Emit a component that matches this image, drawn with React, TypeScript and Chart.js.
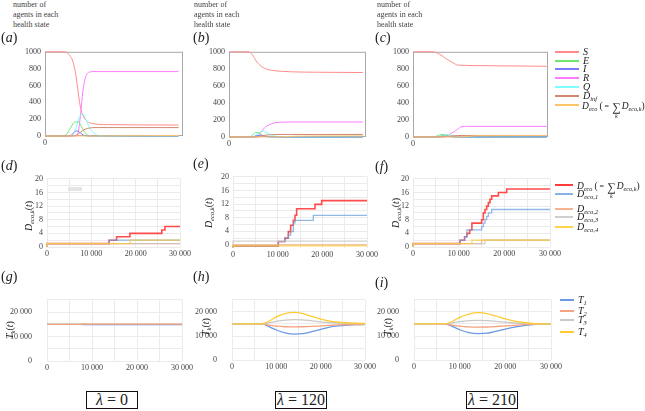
import React, { useEffect, useRef } from "react";
import { Chart, registerables } from "chart.js";
Chart.register(...registerables);

const FONT = '"Liberation Serif", "Times New Roman", serif';
Chart.defaults.font.family = FONT;

// ---------- Row 1: number of agents in each health state ----------
const T_ROW1 = [0, 4000, 5000, 5500, 6000, 6500, 7000, 7500, 8000, 8500, 9000, 9500, 10000, 11000, 12000, 14000, 20000, 30000];

const A_S = [1000, 1000, 990, 960, 920, 840, 700, 500, 330, 250, 200, 175, 157, 145, 138, 135, 132, 130];
const A_E = [0, 0, 30, 75, 120, 160, 168, 165, 130, 80, 40, 10, 0, 0, 0, 0, 0, 0];
const A_I = [0, 0, 0, 0, 15, 40, 60, 55, 35, 15, 5, 0, 0, 0, 0, 0, 0, 0];
const A_R = [0, 0, 0, 0, 0, 0, 0, 60, 260, 530, 680, 740, 760, 765, 765, 765, 765, 765];
const A_Q = [0, 0, 0, 0, 10, 40, 100, 190, 250, 262, 220, 160, 100, 35, 5, 0, 0, 0];
const A_DINF = [0, 0, 0, 0, 0, 3, 10, 25, 45, 65, 80, 90, 95, 100, 100, 100, 100, 100];
const A_DECO = [0, 0, 0, 0, 0, 0, 0, 0, 0, 0, 0, 0, 0, 0, 0, 1, 3, 6];

const B_S = [1000, 1000, 985, 945, 900, 865, 840, 820, 805, 795, 788, 783, 779, 774, 770, 765, 760, 757];
const B_E = [0, 0, 10, 35, 55, 50, 35, 20, 10, 5, 0, 0, 0, 0, 0, 0, 0, 0];
const B_I = [0, 0, 0, 5, 12, 18, 20, 15, 10, 5, 2, 0, 0, 0, 0, 0, 0, 0];
const B_R = [0, 0, 0, 0, 0, 2, 40, 80, 110, 130, 145, 155, 163, 172, 175, 176, 176, 176];
const B_Q = [0, 0, 0, 5, 20, 40, 60, 70, 65, 50, 35, 20, 12, 5, 0, 0, 0, 0];
const B_DINF = [0, 0, 0, 0, 0, 3, 8, 14, 19, 23, 26, 28, 29, 30, 30, 30, 30, 30];
const B_DECO = [0, 0, 0, 0, 0, 0, 0, 0, 0, 0, 0, 0, 0, 2, 3, 8, 12, 13];

const C_S = [1000, 1000, 995, 985, 970, 955, 935, 915, 900, 885, 870, 855, 845, 842, 840, 838, 835, 830];
const C_E = [0, 0, 5, 15, 25, 28, 25, 18, 10, 5, 2, 0, 0, 0, 0, 0, 0, 0];
const C_I = [0, 0, 0, 3, 6, 9, 10, 8, 5, 3, 1, 0, 0, 0, 0, 0, 0, 0];
const C_R = [0, 0, 0, 0, 0, 0, 0, 10, 25, 40, 55, 72, 90, 122, 125, 125, 125, 125];
const C_Q = [0, 0, 0, 2, 8, 18, 26, 30, 28, 22, 15, 8, 4, 1, 0, 0, 0, 0];
const C_DINF = [0, 0, 0, 0, 0, 1, 3, 6, 9, 12, 14, 16, 17, 18, 18, 18, 18, 18];
const C_DECO = [0, 0, 0, 0, 0, 0, 0, 0, 0, 0, 0, 0, 1, 3, 5, 14, 16, 17];

// ---------- Row 2: D_eco,k(t) step functions (change times / values) ----------
const D_RED_T = [0, 14000, 15700, 18700, 25900, 26600, 27400, 30000];
const D_RED_V = [0, 1, 2, 3, 4, 5, 6, 6];
const D_BLUE_T = [0, 14000, 26600, 30000];
const D_BLUE_V = [0, 1, 2, 2];
const D_ORANGE_T = [0, 27400, 30000];
const D_ORANGE_V = [0, 1, 1];
const D_GRAY_T = [0, 15700, 30000];
const D_GRAY_V = [0, 1, 1];
const D_YELLOW_T = [0, 18700, 25900, 30000];
const D_YELLOW_V = [0, 1, 2, 2];

const E_RED_T = [0, 10150, 11640, 12390, 12910, 13510, 13880, 14250, 18360, 19850, 27310, 30000];
const E_RED_V = [-0.9, -0.3, 1, 2, 3.9, 5.8, 7.2, 8.7, 10.6, 11.9, 13, 13];
const E_BLUE_T = [0, 10150, 11640, 12390, 12910, 13510, 13880, 17980, 19480, 30000];
const E_BLUE_V = [-0.9, -0.3, 1, 2, 2.9, 3.9, 6.5, 7.2, 8.7, 8.7];
const E_ORANGE_T = [0, 12760, 30000];
const E_ORANGE_V = [-0.9, 0, 0];
const E_GRAY_T = [0, 27310, 30000];
const E_GRAY_V = [-0.9, 1.1, 1.1];
const E_YELLOW_T = [0, 18360, 30000];
const E_YELLOW_V = [-0.9, -0.3, -0.3];

const F_RED_T = [0, 10300, 11300, 11800, 12400, 12900, 15030, 15400, 15770, 16130, 16500, 16860, 17230, 18690, 20510, 25250, 30000];
const F_RED_V = [0, 1, 2, 3, 4, 5, 7, 8, 10, 11, 12, 13, 14, 15, 16, 17, 17];
const F_BLUE_T = [0, 10300, 11300, 11800, 15030, 15400, 15770, 16130, 16500, 17230, 25250, 30000];
const F_BLUE_V = [0, 1, 2, 3, 5, 6, 7, 8, 9, 10, 11, 11];
const F_ORANGE_T = [0, 15030, 16860, 30000];
const F_ORANGE_V = [0, 1, 2, 2];
const F_GRAY_T = [0, 15770, 18690, 30000];
const F_GRAY_V = [0, 1, 2, 2];
const F_YELLOW_T = [0, 12900, 20510, 30000];
const F_YELLOW_V = [0, 1, 2, 2];

// ---------- Row 3: T_k(t) ----------
const T_ROW3 = [0, 2000, 4000, 6000, 7000, 8000, 10000, 12000, 14000, 16000, 18000, 20000, 22000, 24000, 26000, 28000, 30000];

const G_T1 = [15000, 15000, 15000, 15000, 15000, 14950, 14900, 14880, 14870, 14870, 14870, 14880, 14880, 14880, 14890, 14890, 14900];
const G_T2 = [15000, 15000, 15000, 15000, 15000, 15050, 15100, 15120, 15130, 15130, 15120, 15120, 15110, 15110, 15100, 15100, 15100];
const G_T3 = [15000, 15000, 15000, 15000, 15000, 15000, 14980, 14970, 14970, 14970, 14980, 14980, 14990, 14990, 15000, 15000, 15000];
const G_T4 = [15000, 15000, 15000, 15000, 15000, 15010, 15020, 15030, 15030, 15030, 15030, 15020, 15020, 15010, 15010, 15000, 15000];

const H_T1 = [15000, 15000, 15000, 15000, 14900, 14200, 12500, 11300, 10800, 11000, 11800, 12800, 13700, 14200, 14500, 14700, 14800];
const H_T2 = [15000, 15000, 15000, 15000, 14950, 14600, 14100, 13850, 13800, 13850, 14000, 14200, 14400, 14600, 14700, 14750, 14800];
const H_T3 = [15000, 15000, 15000, 15000, 15050, 15400, 16100, 16600, 16800, 16700, 16300, 15900, 15600, 15400, 15300, 15200, 15100];
const H_T4 = [15000, 15000, 15000, 15000, 15100, 15800, 17900, 19300, 19800, 19300, 18100, 17000, 16200, 15700, 15400, 15300, 15200];

const I_T1 = [15000, 15000, 15000, 15000, 14900, 14300, 12600, 11400, 11000, 11200, 12000, 12900, 13700, 14300, 14700, 14900, 15000];
const I_T2 = [15000, 15000, 15000, 15000, 14950, 14600, 14100, 13800, 13700, 13750, 13950, 14200, 14450, 14700, 14850, 14950, 15000];
const I_T3 = [15000, 15000, 15000, 15000, 15050, 15350, 15950, 16350, 16500, 16400, 16100, 15700, 15400, 15200, 15100, 15000, 15000];
const I_T4 = [15000, 15000, 15000, 15000, 15100, 15700, 17700, 19100, 19700, 19300, 18200, 17100, 16200, 15600, 15200, 15050, 15000];

// ---------- styles ----------
const C1 = { S: "#ff8a8a", E: "#6de86d", I: "#7b7bff", R: "#ff7bff", Q: "#7bffff", DINF: "#d0896e", DECO: "#ffc36e" };
const C2 = {
  red: "rgba(255,45,45,0.85)",
  blue: "rgba(110,160,222,0.75)",
  orange: "rgba(244,165,120,0.75)",
  gray: "rgba(195,195,195,0.75)",
  yellow: "rgba(255,200,50,0.75)",
};
const C2L = { red: "#ff3b3b", blue: "#86b4e4", orange: "#f6b48e", gray: "#cfcfcf", yellow: "#ffd34d" };
const C3 = { t1: "#6a98e4", t2: "#f4a27f", t3: "#c9c9c9", t4: "#ffcb33" };

const xy = (ts: number[], vs: number[]) => ts.map((t, i) => ({ x: t, y: vs[i] }));
const fmtK = (v: number) => (v >= 10000 ? `${Math.floor(v / 1000)} ${String(v % 1000).padStart(3, "0")}` : String(v));

type Box = { l: number; t: number; r: number; b: number };
interface PanelCfg {
  box: Box;
  xMax: number;
  xStep: number;
  xEvery: number;
  yMin: number;
  yMax: number;
  yStep: number;
  yEvery: number;
  grid: boolean;
  frame: boolean;
  yPad: number;
  datasets: any[];
}

const YW = 50, PT = 8, PR = 22, XH = 14;

const framePlugin = {
  id: "frame",
  beforeDatasetsDraw(chart: any, _a: any, opts: any) {
    if (!opts || !opts.on) return;
    const { ctx, chartArea: a } = chart;
    ctx.save();
    ctx.strokeStyle = "#a8a8a8";
    ctx.lineWidth = 1;
    ctx.strokeRect(a.left + 0.5, a.top + 0.5, a.right - a.left - 1, a.bottom - a.top - 1);
    ctx.restore();
  },
};

function Panel({ cfg }: { cfg: PanelCfg }) {
  const ref = useRef<HTMLCanvasElement>(null);
  const { box } = cfg;
  const w = box.r - box.l + YW + PR;
  const h = box.b - box.t + PT + XH;
  useEffect(() => {
    const every = (e: number) => (val: any) => {
      const v = Number(val);
      const r = Math.abs(v % e);
      return r < 1e-6 || Math.abs(r - e) < 1e-6 ? fmtK(v) : "";
    };
    const tickFont = { family: FONT, size: 8 };
    const chart = new Chart(ref.current!, {
      type: "line",
      data: { datasets: cfg.datasets },
      options: {
        responsive: false,
        maintainAspectRatio: false,
        devicePixelRatio: 1,
        animation: false,
        events: [],
        layout: { padding: { left: 0, top: PT, right: PR, bottom: 0 } },
        plugins: { legend: { display: false }, tooltip: { enabled: false }, frame: { on: cfg.frame } } as any,
        elements: { point: { radius: 0 } },
        scales: {
          x: {
            type: "linear",
            min: 0,
            max: cfg.xMax,
            afterFit: (s: any) => {
              s.height = XH;
            },
            ticks: {
              stepSize: cfg.xStep,
              includeBounds: false,
              autoSkip: false,
              maxRotation: 0,
              minRotation: 0,
              padding: 2,
              color: "#444",
              font: tickFont,
              callback: every(cfg.xEvery),
            },
            grid: { display: cfg.grid, color: "#ebebeb", drawTicks: false },
            border: { display: false },
          },
          y: {
            type: "linear",
            min: cfg.yMin,
            max: cfg.yMax,
            afterFit: (s: any) => {
              s.width = YW;
            },
            ticks: {
              stepSize: cfg.yStep,
              includeBounds: false,
              autoSkip: false,
              padding: cfg.yPad,
              color: "#444",
              font: tickFont,
              callback: every(cfg.yEvery),
            },
            grid: { display: cfg.grid, color: "#ebebeb", drawTicks: false },
            border: { display: false },
          },
        },
      } as any,
      plugins: [framePlugin as any],
    });
    return () => chart.destroy();
  }, []);
  return (
    <canvas
      ref={ref}
      width={w}
      height={h}
      style={{ position: "absolute", left: box.l - YW, top: box.t - PT, width: w, height: h }}
    />
  );
}

const line1 = (ts: number[], vs: number[], color: string) => ({
  data: xy(ts, vs),
  borderColor: color,
  borderWidth: 1,
  pointRadius: 0,
  cubicInterpolationMode: "monotone",
  clip: 2,
  fill: false,
});
const step2 = (ts: number[], vs: number[], color: string, order: number, w = 1.3) => ({
  data: xy(ts, vs),
  borderColor: color,
  borderWidth: w,
  pointRadius: 0,
  stepped: "after",
  clip: false,
  fill: false,
  order,
});
const line3 = (ts: number[], vs: number[], color: string) => ({
  data: xy(ts, vs),
  borderColor: color,
  borderWidth: 1.3,
  pointRadius: 0,
  cubicInterpolationMode: "monotone",
  clip: false,
  fill: false,
});

const row1 = (S: number[], E: number[], I: number[], R: number[], Q: number[], Di: number[], De: number[]) => [
  line1(T_ROW1, De, C1.DECO),
  line1(T_ROW1, Di, C1.DINF),
  line1(T_ROW1, I, C1.I),
  line1(T_ROW1, E, C1.E),
  line1(T_ROW1, Q, C1.Q),
  line1(T_ROW1, R, C1.R),
  line1(T_ROW1, S, C1.S),
];

const row2 = (rT: number[], rV: number[], bT: number[], bV: number[], oT: number[], oV: number[], gT: number[], gV: number[], yT: number[], yV: number[]) => [
  step2(rT, rV, C2.red, 5, 1.6),
  step2(bT, bV, C2.blue, 4),
  step2(oT, oV, C2.orange, 3),
  step2(gT, gV, C2.gray, 2),
  step2(yT, yV, C2.yellow, 1),
];

const r1 = { xStep: 10000, xEvery: 10000, yMin: 0, yMax: 1000, yStep: 200, yEvery: 200, grid: false, frame: true, yPad: 4 };
const r2 = { xMax: 30000, xStep: 5000, xEvery: 10000, yMax: 20, yStep: 2, yEvery: 4, grid: true, frame: false, yPad: 4 };
const r3 = { xMax: 30000, xStep: 5000, xEvery: 10000, yMin: 0, yMax: 25000, yStep: 5000, yEvery: 10000, grid: true, frame: false, yPad: 15 };

const PANELS: PanelCfg[] = [
  { ...r1, box: { l: 45, t: 51, r: 183, b: 136 }, xMax: 31000, datasets: row1(A_S, A_E, A_I, A_R, A_Q, A_DINF, A_DECO) },
  { ...r1, box: { l: 229, t: 51, r: 366, b: 137 }, xMax: 30700, datasets: row1(B_S, B_E, B_I, B_R, B_Q, B_DINF, B_DECO) },
  { ...r1, box: { l: 413, t: 51, r: 548, b: 137 }, xMax: 30300, datasets: row1(C_S, C_E, C_I, C_R, C_Q, C_DINF, C_DECO) },
  {
    ...r2,
    box: { l: 47, t: 178, r: 180, b: 247 },
    yMin: 0,
    datasets: row2(D_RED_T, D_RED_V, D_BLUE_T, D_BLUE_V, D_ORANGE_T, D_ORANGE_V, D_GRAY_T, D_GRAY_V, D_YELLOW_T, D_YELLOW_V),
  },
  {
    ...r2,
    box: { l: 233, t: 176, r: 367, b: 248 },
    yMin: -0.9,
    datasets: row2(E_RED_T, E_RED_V, E_BLUE_T, E_BLUE_V, E_ORANGE_T, E_ORANGE_V, E_GRAY_T, E_GRAY_V, E_YELLOW_T, E_YELLOW_V),
  },
  {
    ...r2,
    box: { l: 413, t: 178, r: 550, b: 247 },
    yMin: 0,
    datasets: row2(F_RED_T, F_RED_V, F_BLUE_T, F_BLUE_V, F_ORANGE_T, F_ORANGE_V, F_GRAY_T, F_GRAY_V, F_YELLOW_T, F_YELLOW_V),
  },
  {
    ...r3,
    box: { l: 47, t: 288, r: 182, b: 367 },
    datasets: [line3(T_ROW3, G_T2, C3.t2), line3(T_ROW3, G_T1, C3.t1), line3(T_ROW3, G_T3, C3.t3), line3(T_ROW3, G_T4, C3.t4)],
  },
  {
    ...r3,
    box: { l: 232, t: 288, r: 365, b: 366 },
    datasets: [line3(T_ROW3, H_T4, C3.t4), line3(T_ROW3, H_T3, C3.t3), line3(T_ROW3, H_T2, C3.t2), line3(T_ROW3, H_T1, C3.t1)],
  },
  {
    ...r3,
    box: { l: 414, t: 288, r: 551, b: 366 },
    datasets: [line3(T_ROW3, I_T4, C3.t4), line3(T_ROW3, I_T3, C3.t3), line3(T_ROW3, I_T2, C3.t2), line3(T_ROW3, I_T1, C3.t1)],
  },
];

// ---------- text helpers ----------
const Sub = ({ children }: { children: React.ReactNode }) => (
  <span style={{ fontSize: "0.65em", position: "relative", top: "0.35em", fontStyle: "italic" }}>{children}</span>
);
const Sigma = () => (
  <span style={{ display: "inline-flex", flexDirection: "column", alignItems: "center", verticalAlign: "middle", lineHeight: 1, margin: "0 1px", position: "relative", top: 3 }}>
    <span style={{ fontSize: 12 }}>∑</span>
    <span style={{ fontSize: 6, fontStyle: "italic" }}>k</span>
  </span>
);
const DecoSum = () => (
  <span style={{ fontSize: 9.5 }}>
    <i>D</i>
    <Sub>eco</Sub>
    <span style={{ marginLeft: 2 }}>(</span>
    <span style={{ fontSize: 8 }}> = </span>
    <Sigma />
    <i>D</i>
    <Sub>eco,k</Sub>
    <span>)</span>
  </span>
);

function Leg({ x, y, len, color, lw, tx, children }: any) {
  return (
    <>
      <div style={{ position: "absolute", left: x, top: y - lw / 2, width: len, height: lw, background: color }} />
      <div style={{ position: "absolute", left: tx, top: y - 7, height: 14, lineHeight: "14px", fontSize: 10, whiteSpace: "nowrap" }}>{children}</div>
    </>
  );
}

function Letter({ x, y, l }: { x: number; y: number; l: string }) {
  return (
    <div style={{ position: "absolute", left: x, top: y - 8, lineHeight: "16px", fontSize: 14 }}>
      (<i>{l}</i>)
    </div>
  );
}

function YTitle({ cx, cy, children }: any) {
  return (
    <div
      style={{
        position: "absolute",
        left: cx,
        top: cy,
        transform: "translate(-50%, -50%) rotate(-90deg)",
        whiteSpace: "nowrap",
        fontSize: 10,
        lineHeight: "12px",
      }}
    >
      {children}
    </div>
  );
}

function Lambda({ l, v }: { l: number; v: string }) {
  return (
    <div
      style={{
        position: "absolute",
        left: l,
        top: 391,
        width: 52,
        height: 18,
        boxSizing: "border-box",
        border: "1.5px solid #111",
        display: "flex",
        alignItems: "center",
        justifyContent: "center",
        fontSize: 16,
        whiteSpace: "nowrap",
      }}
    >
      <i>λ</i>&nbsp;=&nbsp;{v}
    </div>
  );
}

const HeadText = ({ x }: { x: number }) => (
  <div style={{ position: "absolute", left: x, top: 0, fontSize: 8, lineHeight: "10px", color: "#444" }}>
    number of
    <br />
    agents in each
    <br />
    health state
  </div>
);

export default function App() {
  return (
    <div style={{ position: "absolute", left: 0, top: 0, width: 645, height: 411, background: "#fff", fontFamily: FONT, color: "#222", overflow: "hidden" }}>
      {PANELS.map((p, i) => (
        <Panel key={i} cfg={p} />
      ))}
      <HeadText x={13} />
      <HeadText x={194} />
      <HeadText x={377} />
      <Letter x={1} y={38} l="a" />
      <Letter x={193} y={38} l="b" />
      <Letter x={375} y={38} l="c" />
      <Letter x={1} y={166} l="d" />
      <Letter x={193} y={164} l="e" />
      <Letter x={375} y={167} l="f" />
      <Letter x={1} y={277} l="g" />
      <Letter x={193} y={277} l="h" />
      <Letter x={375} y={283} l="i" />

      <div style={{ position: "absolute", left: 68, top: 187, width: 14, height: 4, background: "#e4e4e4" }} />

      <YTitle cx={29} cy={216}>
        <i>D</i>
        <Sub>eco,k</Sub>(<i>t</i>)
      </YTitle>
      <YTitle cx={209} cy={213}>
        <i>D</i>
        <Sub>eco,k</Sub>(<i>t</i>)
      </YTitle>
      <YTitle cx={396} cy={213}>
        <i>D</i>
        <Sub>eco,k</Sub>(<i>t</i>)
      </YTitle>
      <YTitle cx={10} cy={330}>
        <i>T</i>
        <Sub>k</Sub>(<i>t</i>)
      </YTitle>
      <YTitle cx={206} cy={327}>
        <i>T</i>
        <Sub>k</Sub>(<i>t</i>)
      </YTitle>
      <YTitle cx={388} cy={327}>
        <i>T</i>
        <Sub>k</Sub>(<i>t</i>)
      </YTitle>

      {/* Row 1 legend */}
      <Leg x={555} y={52} len={24} lw={2} color={C1.S} tx={583}><i>S</i></Leg>
      <Leg x={555} y={61} len={24} lw={2} color={C1.E} tx={583}><i>E</i></Leg>
      <Leg x={555} y={69} len={24} lw={2} color={C1.I} tx={583}><i>I</i></Leg>
      <Leg x={555} y={78} len={24} lw={2} color={C1.R} tx={583}><i>R</i></Leg>
      <Leg x={555} y={87} len={24} lw={2} color={C1.Q} tx={583}><i>Q</i></Leg>
      <Leg x={555} y={96} len={24} lw={2} color={C1.DINF} tx={583}><i>D</i><Sub>inf</Sub></Leg>
      <Leg x={555} y={105} len={24} lw={2} color={C1.DECO} tx={582}><DecoSum /></Leg>

      {/* Row 2 legend */}
      <Leg x={555} y={185} len={18} lw={1.6} color={C2L.red} tx={577}><DecoSum /></Leg>
      <Leg x={555} y={194} len={18} lw={1.6} color={C2L.blue} tx={577}><i>D</i><Sub>eco,1</Sub></Leg>
      <Leg x={555} y={209} len={18} lw={1.6} color={C2L.orange} tx={577}><i>D</i><Sub>eco,2</Sub></Leg>
      <Leg x={555} y={217} len={18} lw={1.6} color={C2L.gray} tx={577}><i>D</i><Sub>eco,3</Sub></Leg>
      <Leg x={555} y={227} len={18} lw={1.6} color={C2L.yellow} tx={577}><i>D</i><Sub>eco,4</Sub></Leg>

      {/* Row 3 legend */}
      <Leg x={560} y={300} len={14} lw={1.6} color={C3.t1} tx={578}><i>T</i><Sub>1</Sub></Leg>
      <Leg x={560} y={311} len={14} lw={1.6} color={C3.t2} tx={578}><i>T</i><Sub>2</Sub></Leg>
      <Leg x={560} y={320} len={14} lw={1.6} color={C3.t3} tx={578}><i>T</i><Sub>3</Sub></Leg>
      <Leg x={560} y={332} len={14} lw={1.6} color={C3.t4} tx={578}><i>T</i><Sub>4</Sub></Leg>

      <Lambda l={86} v="0" />
      <Lambda l={275} v="120" />
      <Lambda l={466} v="210" />
    </div>
  );
}
